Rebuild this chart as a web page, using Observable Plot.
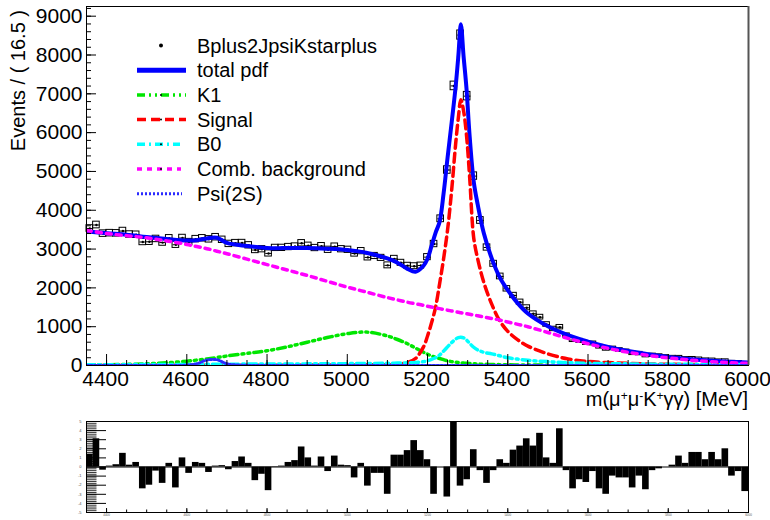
<!DOCTYPE html>
<html><head><meta charset="utf-8">
<script src="https://cdn.jsdelivr.net/npm/d3@7"></script>
<script src="https://cdn.jsdelivr.net/npm/@observablehq/plot@0.6"></script>
<style>
html,body{margin:0;padding:0;background:#fff;}
#wrap{position:relative;width:770px;height:520px;overflow:hidden;}
#main{position:absolute;left:0;top:0;}
#pull{position:absolute;left:0;top:410px;}
svg{overflow:visible;}
</style></head><body><div id="wrap"><div id="main"></div><div id="pull"></div></div>
<script>
// ---- binning ----
const binLow = 4350, binWidth = 16.5;
// ---- data: events per bin (100 bins, 4350-6000 MeV) ----
const counts = [3530,3620,3398,3410,3405,3464,3375,3369,3182,3188,
3261,3167,3278,3111,3285,3180,3256,3278,3251,3306,
3239,3133,3154,3156,3097,2975,2996,2887,3030,3031,
3052,3066,3150,3085,3027,3075,2981,3063,2996,2981,
2885,2947,2785,2822,2773,2580,2747,2646,2570,2558,
2575,2792,3130,3780,5037,7204,8514,6940,4880,3737,
3040,2620,2294,1976,1804,1632,1487,1332,1245,1057,
942,987,773,656,634,578,568,484,428,439,
400,366,312,307,252,263,247,225,208,207,
177,180,167,144,141,120,122,84,81,56];
// ---- pulls per bin ----
const pulls = [1.4,3.1,-0.35,0.1,0.25,1.5,0.2,0.5,-2.4,-2.0,
-0.45,-1.8,0.4,-2.3,1.0,-0.7,0.5,0.4,-0.6,0.1,
0.15,-0.3,0.6,1.1,0.4,-1.5,-0.8,-2.6,0.05,0.1,
0.5,0.7,2.2,1.0,0.1,1.1,-0.5,1.2,0.2,0.15,
-1.2,0.4,-2.1,-0.7,-0.7,-3.0,1.3,1.3,1.8,2.9,
1.8,0.8,-3.0,0.0,-3.3,4.9,-2.1,-1.4,1.9,-0.4,
-1.8,-0.4,0.8,0.4,1.85,2.3,3.1,2.3,3.7,1.0,
0.4,4.2,-0.4,-2.4,-1.4,-1.7,-0.5,-2.4,-3.0,-1.0,
-1.2,-1.2,-2.3,-1.0,-2.5,-0.4,-0.2,0.0,0.2,1.2,
0.4,1.6,1.6,0.8,1.6,0.8,2.0,-1.0,-0.5,-2.7];
// ---- fit curves ----
const curveX = [4350,4400,4450,4500,4550,4600,4625,4650,4675,4700,4750,4800,4850,4900,4950,5000,5050,5100,5125,5150,5170,5190,5200,5210,5220,5230,5240,5250,5260,5270,5277,5283,5290,5297,5305,5315,5325,5340,5360,5380,5400,5425,5450,5500,5550,5600,5650,5700,5750,5800,5850,5900,5950,6000];
const totalPdf = [3460,3410,3370,3310,3260,3220,3230,3275,3290,3160,3080,3030,3025,3030,3010,2975,2900,2760,2650,2490,2415,2570,2750,3080,3420,3700,4430,5360,6250,7180,8000,8790,7950,7150,5900,4750,4150,3420,2760,2270,1940,1600,1340,1010,780,615,480,375,290,220,170,130,98,75];
const k1 = [15,20,30,45,70,110,140,170,205,245,310,380,480,600,720,820,860,760,670,560,450,340,290,245,210,180,150,120,100,85,75,68,62,56,50,44,38,32,26,22,18,15,12,9,7,5,4,3,2,2,1,1,1,1];
const signal = [2,2,3,3,4,4,5,5,5,6,7,8,9,10,12,14,17,22,30,80,180,480,760,1100,1500,2100,2750,3500,4500,5700,6400,6850,6550,5950,4850,3300,2750,2150,1580,1150,880,660,500,300,170,105,75,55,40,32,25,20,17,15];
const b0 = [20,20,22,24,25,28,30,30,32,34,36,38,40,42,45,48,52,58,62,70,80,100,125,160,200,270,370,480,590,680,720,730,710,660,570,470,400,340,300,250,200,165,135,100,72,58,48,42,37,33,30,28,26,24];
const comb = [3480,3400,3345,3290,3210,3120,3065,3010,2945,2880,2740,2600,2460,2320,2170,2020,1885,1750,1690,1630,1590,1550,1525,1505,1485,1465,1445,1425,1405,1385,1372,1360,1348,1335,1320,1300,1280,1250,1210,1170,1120,1060,1000,850,700,560,440,340,260,195,145,105,75,55];
const psi2s = [0,0,0,0,0,8,45,140,150,45,3,0,0,0,0,0,0,0,0,0,0,0,0,0,0,0,0,0,0,0,0,0,0,0,0,0,0,0,0,0,0,0,0,0,0,0,0,0,0,0,0,0,0,0];
// ---- axis ticks ----
const xTicks = [4400,4600,4800,5000,5200,5400,5600,5800,6000];
const xMinor = d3.range(4350, 6001, 50);
const yTicks = [0,1000,2000,3000,4000,5000,6000,7000,8000,9000];
const yMinor = d3.range(0, 9201, 200);
const pullTicks = [-5,-4,-3,-2,-1,0,1,2,3,4,5];
const pullMinor = d3.range(-50, 51, 2).map(d => d / 10);
// ---- legend ----
const legendLabels = ["Bplus2JpsiKstarplus","total pdf","K1","Signal","B0","Comb. background","Psi(2S)"];

const FONT = '"Liberation Sans", Arial, Helvetica, sans-serif';
const COL = {total:"#0000ff", k1:"#00e600", signal:"#ff0000", b0:"#00ffff", comb:"#ff00ff", psi:"#2b2bff"};

const dataTable = counts.map((n, i) => {
  const c = binLow + binWidth * (i + 0.5);
  const e = Math.sqrt(n);
  return {x: c, x1: c - binWidth/2, x2: c + binWidth/2, n, lo: n - e, hi: n + e};
});
const pullTable = pulls.map((p, i) => ({x1: binLow + binWidth*i, x2: binLow + binWidth*(i+1), y0: 0, p}));
const curveTable = curveX.map((x, i) => ({x, total: totalPdf[i], k1: k1[i], signal: signal[i], b0: b0[i], comb: comb[i], psi: psi2s[i]}));

const FW = 770 - 86 - 22, FH = 410 - 6 - 45;
const main = Plot.plot({
  width: 770, height: 410,
  marginLeft: 86, marginRight: 22, marginTop: 6, marginBottom: 45,
  x: {domain: [4350, 6000]},
  y: {domain: [0, 9250]},
  style: {fontFamily: FONT, fontSize: "21px", background: "#fff", color: "#000"},
  marks: [
    Plot.rect(dataTable, {x1: "x1", x2: "x2", y1: "lo", y2: "hi", fill: "none", stroke: "#000", strokeWidth: 1, insetTop: -1, insetBottom: -1}),
    Plot.link(dataTable, {x1: "x1", x2: "x2", y1: "n", y2: "n", stroke: "#000", strokeWidth: 1}),
    Plot.dot(dataTable, {x: "x", y: "n", r: 1.2, fill: "#000"}),
    Plot.line(curveTable, {x: "x", y: "total", stroke: COL.total, strokeWidth: 4, curve: "catmull-rom", clip: true}),
    Plot.line(curveTable, {x: "x", y: "k1", stroke: COL.k1, strokeWidth: 3.5, strokeDasharray: "8,4,2,4,2,4", curve: "catmull-rom", clip: true}),
    Plot.line(curveTable, {x: "x", y: "signal", stroke: COL.signal, strokeWidth: 3.5, strokeDasharray: "9,5", curve: "catmull-rom", clip: true}),
    Plot.line(curveTable, {x: "x", y: "b0", stroke: COL.b0, strokeWidth: 3.5, strokeDasharray: "8,4,2,4", curve: "catmull-rom", clip: true}),
    Plot.line(curveTable, {x: "x", y: "comb", stroke: COL.comb, strokeWidth: 3.5, strokeDasharray: "5,5", curve: "catmull-rom", clip: true}),
    Plot.line(curveTable, {x: "x", y: "psi", stroke: COL.psi, strokeWidth: 3, strokeDasharray: "2,2", curve: "catmull-rom", clip: true}),
    Plot.tickX(xMinor, {x: d => d, stroke: "#000", insetTop: FH - 5}),
    Plot.tickX(xTicks, {x: d => d, stroke: "#000", insetTop: FH - 11}),
    Plot.tickY(yMinor, {y: d => d, stroke: "#000", insetRight: FW - 5}),
    Plot.tickY(yTicks, {y: d => d, stroke: "#000", insetRight: FW - 10}),
    Plot.axisX({ticks: xTicks, tickSize: 0, tickPadding: 6, tickFormat: d => String(d), label: null, dx: -1}),
    Plot.axisY({ticks: yTicks, tickSize: 0, tickPadding: 4, tickFormat: d => String(d), label: null}),
    Plot.frame({stroke: "#000"}),
    Plot.ruleX([6000], {stroke: "#555", strokeWidth: 2})
  ]
});
document.getElementById("main").appendChild(main);

// titles and legend (text)
const s = d3.select(main);
s.append("text").attr("transform", "translate(25,10) rotate(-90)").attr("text-anchor", "end")
  .attr("font-family", FONT).attr("font-size", 20).attr("fill", "#000").text("Events / ( 16.5 )");
const xt = s.append("text").attr("x", 748).attr("y", 406).attr("text-anchor", "end")
  .attr("font-family", FONT).attr("font-size", 20).attr("fill", "#000");
const parts = [["m(\u03bc", 0], ["+", 1], ["\u03bc", 0], ["-", 1], ["K", 0], ["+", 1], ["\u03b3\u03b3) [MeV]", 0]];
let raised = false;
parts.forEach(([t, sup]) => {
  const ts = xt.append("tspan").text(t);
  if (sup && !raised) { ts.attr("dy", -6).attr("font-size", 12); raised = true; }
  else if (sup && raised) { ts.attr("font-size", 12); }
  else if (!sup && raised) { ts.attr("dy", 6); raised = false; }
});

const leg = s.append("g").attr("font-family", FONT).attr("font-size", 20).attr("fill", "#000").attr("text-anchor", "start");
const styles = [
  null,
  {c: COL.total, w: 5, d: null, x2: 186},
  {c: COL.k1, w: 3.5, d: "8,4,2,4,2,4", x2: 186},
  {c: COL.signal, w: 3.5, d: "9,5", x2: 186},
  {c: COL.b0, w: 3.5, d: "8,4,2,4", x2: 180},
  {c: COL.comb, w: 3.5, d: "5,5", x2: 181},
  {c: COL.psi, w: 3, d: "2,2", x2: 182}
];
legendLabels.forEach((lab, k) => {
  const cy = 45.5 + 24.7 * k;
  const st = styles[k];
  if (!st) {
    leg.append("circle").attr("cx", 161).attr("cy", cy).attr("r", 2).attr("fill", "#000");
  } else {
    const l = leg.append("line").attr("x1", 137).attr("x2", st.x2).attr("y1", cy).attr("y2", cy)
      .attr("stroke", st.c).attr("stroke-width", st.w);
    if (st.d) l.attr("stroke-dasharray", st.d);
    if (k >= 2 && k <= 5) leg.append("circle").attr("cx", 161).attr("cy", cy).attr("r", 1).attr("fill", "#000");
  }
  leg.append("text").attr("x", 197).attr("y", cy + 7).attr("text-anchor", "start").text(lab);
});

// ---- pull panel ----
const PFW = FW, PFH = 110 - 11 - 8;
const pull = Plot.plot({
  width: 770, height: 110,
  marginLeft: 86, marginRight: 22, marginTop: 11, marginBottom: 8,
  x: {domain: [4350, 6000]},
  y: {domain: [-5, 5]},
  style: {fontFamily: FONT, fontSize: "4px", background: "#fff", color: "#000"},
  marks: [
    Plot.rect(pullTable, {x1: "x1", x2: "x2", y1: "y0", y2: "p", fill: "#000", clip: true}),
    Plot.ruleY([0], {stroke: "#000"}),
    Plot.tickY(pullMinor, {y: d => d, stroke: "#000", strokeWidth: 0.8, insetRight: PFW - 10.5}),
    Plot.tickY(pullTicks, {y: d => d, stroke: "#000", insetRight: PFW - 20}),
    Plot.tickX(xMinor, {x: d => d, stroke: "#000", insetTop: PFH - 2.5}),
    Plot.tickX(xTicks, {x: d => d, stroke: "#000", insetTop: PFH - 4}),
    Plot.axisY({ticks: pullTicks, tickSize: 0, tickPadding: 5, tickFormat: d => String(d), label: null, fill: "#555"}),
    Plot.axisX({ticks: xTicks, tickSize: 0, tickPadding: 1, tickFormat: d => String(d), label: null, fill: "#555", fontSize: 3}),
    Plot.frame({stroke: "#000"})
  ]
});
document.getElementById("pull").appendChild(pull);
</script>
</body></html>
